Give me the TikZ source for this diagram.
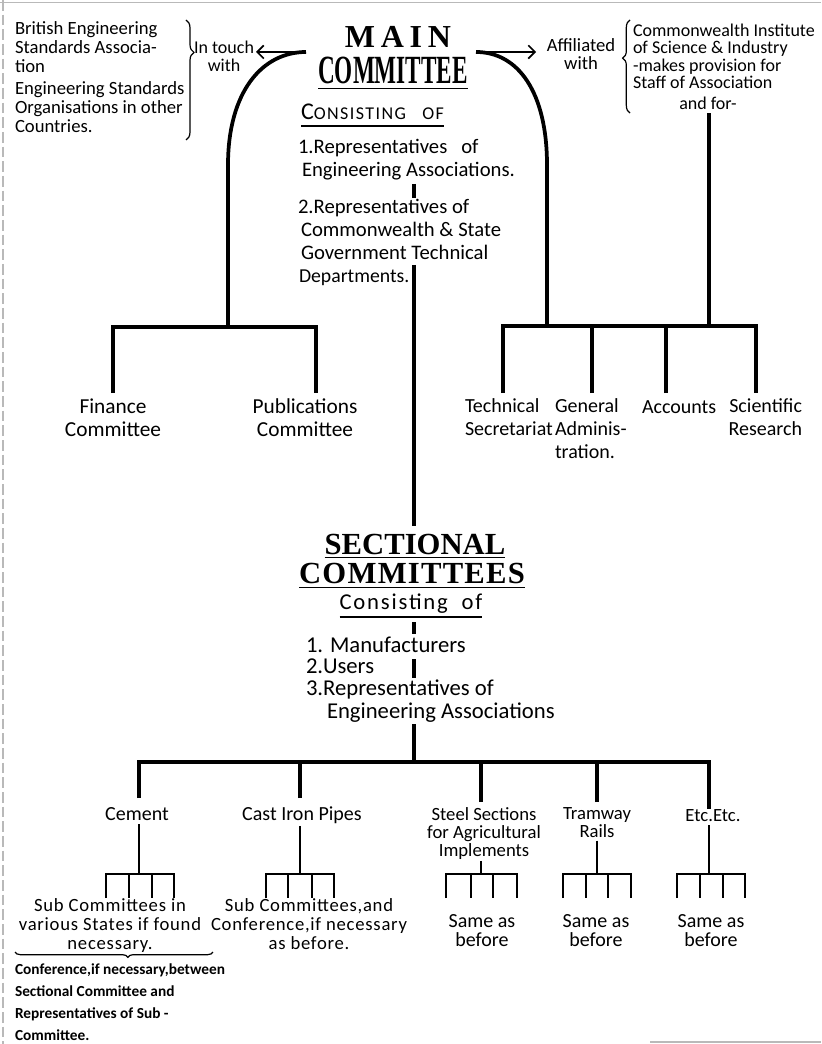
\documentclass[tikz,border=0pt]{standalone}
\usepackage{fontspec}
\setmainfont{Carlito}
\newfontfamily\titlefont{Liberation Serif}
\newfontfamily\titlespaced{Liberation Serif}[LetterSpace=18]
\newfontfamily\titlewide{Liberation Serif}[LetterSpace=4]
\newfontfamily\spaced{Carlito}[LetterSpace=8]
\newfontfamily\lspaced{Carlito}[LetterSpace=4]
\usetikzlibrary{arrows.meta,decorations.pathreplacing}
\newcommand\myfs[2]{\fontsize{#1}{#2}\selectfont}
\newcommand\rakeat[4]{%
  \draw[tick] (#1,898) -- (#1,874) -- (#4,874) -- (#4,898);
  \draw[tick] (#2,874) -- (#2,898);
  \draw[tick] (#3,874) -- (#3,898);}
\begin{document}
\begin{tikzpicture}[x=0.75pt,y=-0.75pt,
  lbl/.style={inner sep=0pt, outer sep=0pt},
  trunk/.style={line width=3.6pt},
  bar/.style={line width=2.8pt},
  sub/.style={line width=2.2pt},
  tick/.style={line width=1.9pt},
  arr/.style={line width=1.2pt, -{Straight Barb[length=5pt,width=10pt,line width=1.2pt]}},
  brc/.style={decorate, line width=0.9pt},
  frame/.style={draw=gray!55, line width=0.8pt},
  uline/.style={line width=1.1pt}]
\useasboundingbox (0,0) rectangle (821,1044);
% scan frame remnants
\draw[frame] (0,2.5) -- (821,2.5);
\draw[frame, dash pattern=on 8pt off 3pt] (3,0) -- (3,1044);
\draw[frame] (650,1042) -- (821,1042);

% ---------- top left ----------
\node[lbl, anchor=north west, align=left, font=\myfs{14}{14}] (bes) at (15,22)
  {British Engineering\\Standards Associa-\\tion\\[3pt]Engineering Standards\\Organisations in other\\Countries.};
\draw[brc, decoration={brace,amplitude=6pt,aspect=0.27}] (186,20) -- (186,140);
\node[lbl, align=center, font=\myfs{13.5}{13.5}] (touch) at (224,56) {In touch\\with};
\coordinate (ltip) at (256,52);
\coordinate (lstart) at (306,52);
\draw[arr] (lstart) -- (ltip);

% ---------- main title ----------
\node[lbl, anchor=base, font=\titlespaced\bfseries\myfs{24}{24}] (mainw) at (398,48) {MAIN};
\node[lbl, anchor=base, font=\titlefont\bfseries\myfs{30}{30}] (comm) at (393,84) {\scalebox{0.58}[1]{COMMITTEE}};
\draw[uline] ([yshift=-3.5pt]comm.base west) -- ([yshift=-3.5pt]comm.base east);

\node[lbl, anchor=base west, font=\spaced] (cons) at (301,120)
  {\myfs{18}{18}C\myfs{13.5}{13.5}ONSISTING\hspace{0.9em}OF};
\draw[line width=0.9pt] ([yshift=-4.5pt]cons.base west) -- ([yshift=-4.5pt]cons.base east);

\node[lbl, anchor=base west, font=\myfs{15.5}{15.5}] (r1a) at (298,154) {1.Representatives\ \ \ of};
\node[lbl, anchor=base west, font=\myfs{15.5}{15.5}] (r1b) at (302,177) {Engineering Associations.};
\node[lbl, anchor=base west, font=\myfs{15.5}{15.5}] (r2a) at (298,214) {2.Representatives of};
\node[lbl, anchor=base west, font=\myfs{15.5}{15.5}] (r2b) at (301,237) {Commonwealth \& State};
\node[lbl, anchor=base west, font=\myfs{15.5}{15.5}] (r2c) at (301,260) {Government Technical};
\node[lbl, anchor=base west, font=\myfs{14.8}{15.5}] (r2d) at (299,283) {Departments.};

\coordinate (s1a) at (414,184);
\coordinate (s1b) at (414,198);
\draw[trunk] (s1a) -- (s1b);
\coordinate (tTop) at (414,265);
\coordinate (tBot) at (414,526);
\draw[trunk] (tTop) -- (tBot);

% ---------- left branch ----------
\coordinate (lj) at (228,327);
\draw[bar] (lstart) .. controls (262,52) and (228,92) .. (228,165) -- (lj);
\coordinate (finD) at (113,393);
\coordinate (pubD) at (316,393);
\draw[bar] (finD) |- (lj) -| (pubD);
\node[lbl, anchor=north, align=center, font=\myfs{16}{17}] (fin) at (113,399) {Finance\\Committee};
\node[lbl, anchor=north, align=center, font=\myfs{16}{17}] (pub) at (305,399) {Publications\\Committee};

% ---------- right branch ----------
\coordinate (rstart) at (476,52);
\coordinate (rtip) at (536,52);
\draw[arr] (rstart) -- (rtip);
\node[lbl, align=center, font=\myfs{14}{14}] (aff) at (581,54) {Affiliated\\with};
\draw[brc, decoration={brace,amplitude=5.5pt,aspect=0.59}] (630,113) -- (630,20);
\node[lbl, anchor=north west, align=left, font=\myfs{13.5}{13}] (csi) at (633,24)
  {Commonwealth Institute\\of Science \& Industry\\-makes provision for\\Staff of Association};
\node[lbl, font=\myfs{13.5}{13}] (andfor) at (708,103) {and for-};
\coordinate (rj1) at (547,326);
\coordinate (rj2) at (709,326);
\draw[bar] (rstart) .. controls (518,52) and (547,92) .. (547,165) -- (rj1);
\draw[bar] ([yshift=-3pt]andfor.south -| rj2) -- (rj2);
\coordinate (tsD) at (503,393);
\coordinate (gaD) at (592,393);
\coordinate (acD) at (666,393);
\coordinate (srD) at (756,393);
\draw[bar] (tsD) |- (srD |- rj1) -- (srD);
\draw[bar] (gaD) -- (gaD |- rj1);
\draw[bar] (acD) -- (acD |- rj1);
\node[lbl, anchor=north west, align=left, font=\myfs{15}{17}] (ts) at (465,399) {Technical\\Secretariat};
\node[lbl, anchor=north west, align=left, font=\myfs{15}{17}] (ga) at (555,399) {General\\Adminis-\\tration.};
\node[lbl, anchor=base west, font=\myfs{15}{17}] (ac) at (642,413) {Accounts};
\node[lbl, anchor=north east, align=right, font=\myfs{15}{17}] (sr) at (802,399) {Scientific\\Research};

% ---------- sectional committees ----------
\node[lbl, anchor=base, font=\titlefont\bfseries\myfs{23}{23}] (sect) at (415,554) {SECTIONAL};
\draw[uline] ([yshift=-2.5pt]sect.base west) -- ([yshift=-2.5pt]sect.base east);
\node[lbl, anchor=base, font=\titlewide\bfseries\myfs{23}{23}] (scomm) at (412,583) {COMMITTEES};
\draw[uline] ([yshift=-3.5pt]scomm.base west) -- ([yshift=-3.5pt]scomm.base east);
\node[lbl, anchor=base, font=\spaced\myfs{17}{17}] (scons) at (411,609) {Consisting\ \ of};
\draw[line width=0.9pt] ([yshift=-6pt]scons.base west) -- ([yshift=-6pt]scons.base east);

\coordinate (s2a) at (414,622);
\coordinate (s2b) at (414,634);
\draw[trunk] (s2a) -- (s2b);
\node[lbl, anchor=base west, font=\myfs{17}{17}] (m1) at (306,652) {1. Manufacturers};
\node[lbl, anchor=base west, font=\myfs{17}{17}] (m2) at (306,673) {2.Users};
\node[lbl, anchor=base west, font=\myfs{17}{17}] (m3) at (306,695) {3.Representatives of};
\node[lbl, anchor=base west, font=\myfs{17}{17}] (m4) at (327,718) {Engineering Associations};
\coordinate (s3a) at (414,659);
\coordinate (s3b) at (414,678);
\draw[trunk] (s3a) -- (s3b);
\coordinate (s4a) at (414,724);
\coordinate (bj) at (414,762);
\draw[trunk] (s4a) -- (bj);

% ---------- bottom tree ----------
\coordinate (cemD) at (139,798);
\coordinate (casD) at (300,798);
\coordinate (stD) at (481,802);
\coordinate (trD) at (597,802);
\coordinate (etD) at (709,809);
\draw[bar] (cemD) |- (bj) -| (etD);
\draw[bar] (casD) -- (casD |- bj);
\draw[bar] (stD) -- (stD |- bj);
\draw[bar] (trD) -- (trD |- bj);

\node[lbl, anchor=base, font=\myfs{15}{15}] (cem) at (137,820) {Cement};
\node[lbl, anchor=base, font=\myfs{15}{15}] (cas) at (302,820) {Cast Iron Pipes};
\node[lbl, anchor=north, align=center, font=\myfs{14}{13.3}] (st) at (484,808) {Steel Sections\\for Agricultural\\Implements};
\node[lbl, anchor=north, align=center, font=\myfs{14}{13.3}] (tr) at (597,808) {Tramway\\Rails};
\node[lbl, anchor=base, font=\myfs{14}{14}] (et) at (713,821) {Etc.Etc.};

\coordinate (cemR) at (139,874);
\coordinate (casR) at (300,874);
\coordinate (stR) at (481,874);
\coordinate (trR) at (597,874);
\coordinate (etR) at (709,874);
\draw[sub] ([yshift=-3pt]cem.south -| cemR) -- (cemR);
\draw[sub] ([yshift=-2pt]cas.south -| casR) -- (casR);
\draw[sub] ([yshift=-1pt]st.south -| stR) -- (stR);
\draw[sub] ([yshift=-2pt]tr.south -| trR) -- (trR);
\draw[sub] ([yshift=-3pt]et.south -| etR) -- (etR);

\rakeat{106}{129}{152}{174}
\rakeat{266}{288}{312}{334}
\rakeat{446}{471}{493}{517}
\rakeat{563}{586}{608}{631}
\rakeat{677}{700}{723}{745}

\node[lbl, anchor=north, align=center, font=\lspaced\myfs{14}{14}] (subA) at (110,899)
  {Sub Committees in\\various States if found\\necessary.};
\draw[brc, decoration={brace,amplitude=4pt,aspect=0.43}] (213,952) -- (15,952);
\node[lbl, anchor=north west, align=left, font=\bfseries\myfs{11.5}{16.5}] (conf) at (15,964)
  {Conference,if necessary,between\\Sectional Committee and\\Representatives of Sub -\\Committee.};
\node[lbl, anchor=north, align=center, font=\lspaced\myfs{14}{14}] (subB) at (309,899)
  {Sub Committees,and\\Conference,if necessary\\as before.};
\node[lbl, anchor=north, align=center, font=\myfs{15}{14}] (sa1) at (482,915) {Same as\\before};
\node[lbl, anchor=north, align=center, font=\myfs{15}{14}] (sa2) at (596,915) {Same as\\before};
\node[lbl, anchor=north, align=center, font=\myfs{15}{14}] (sa3) at (711,915) {Same as\\before};
\end{tikzpicture}
\end{document}
